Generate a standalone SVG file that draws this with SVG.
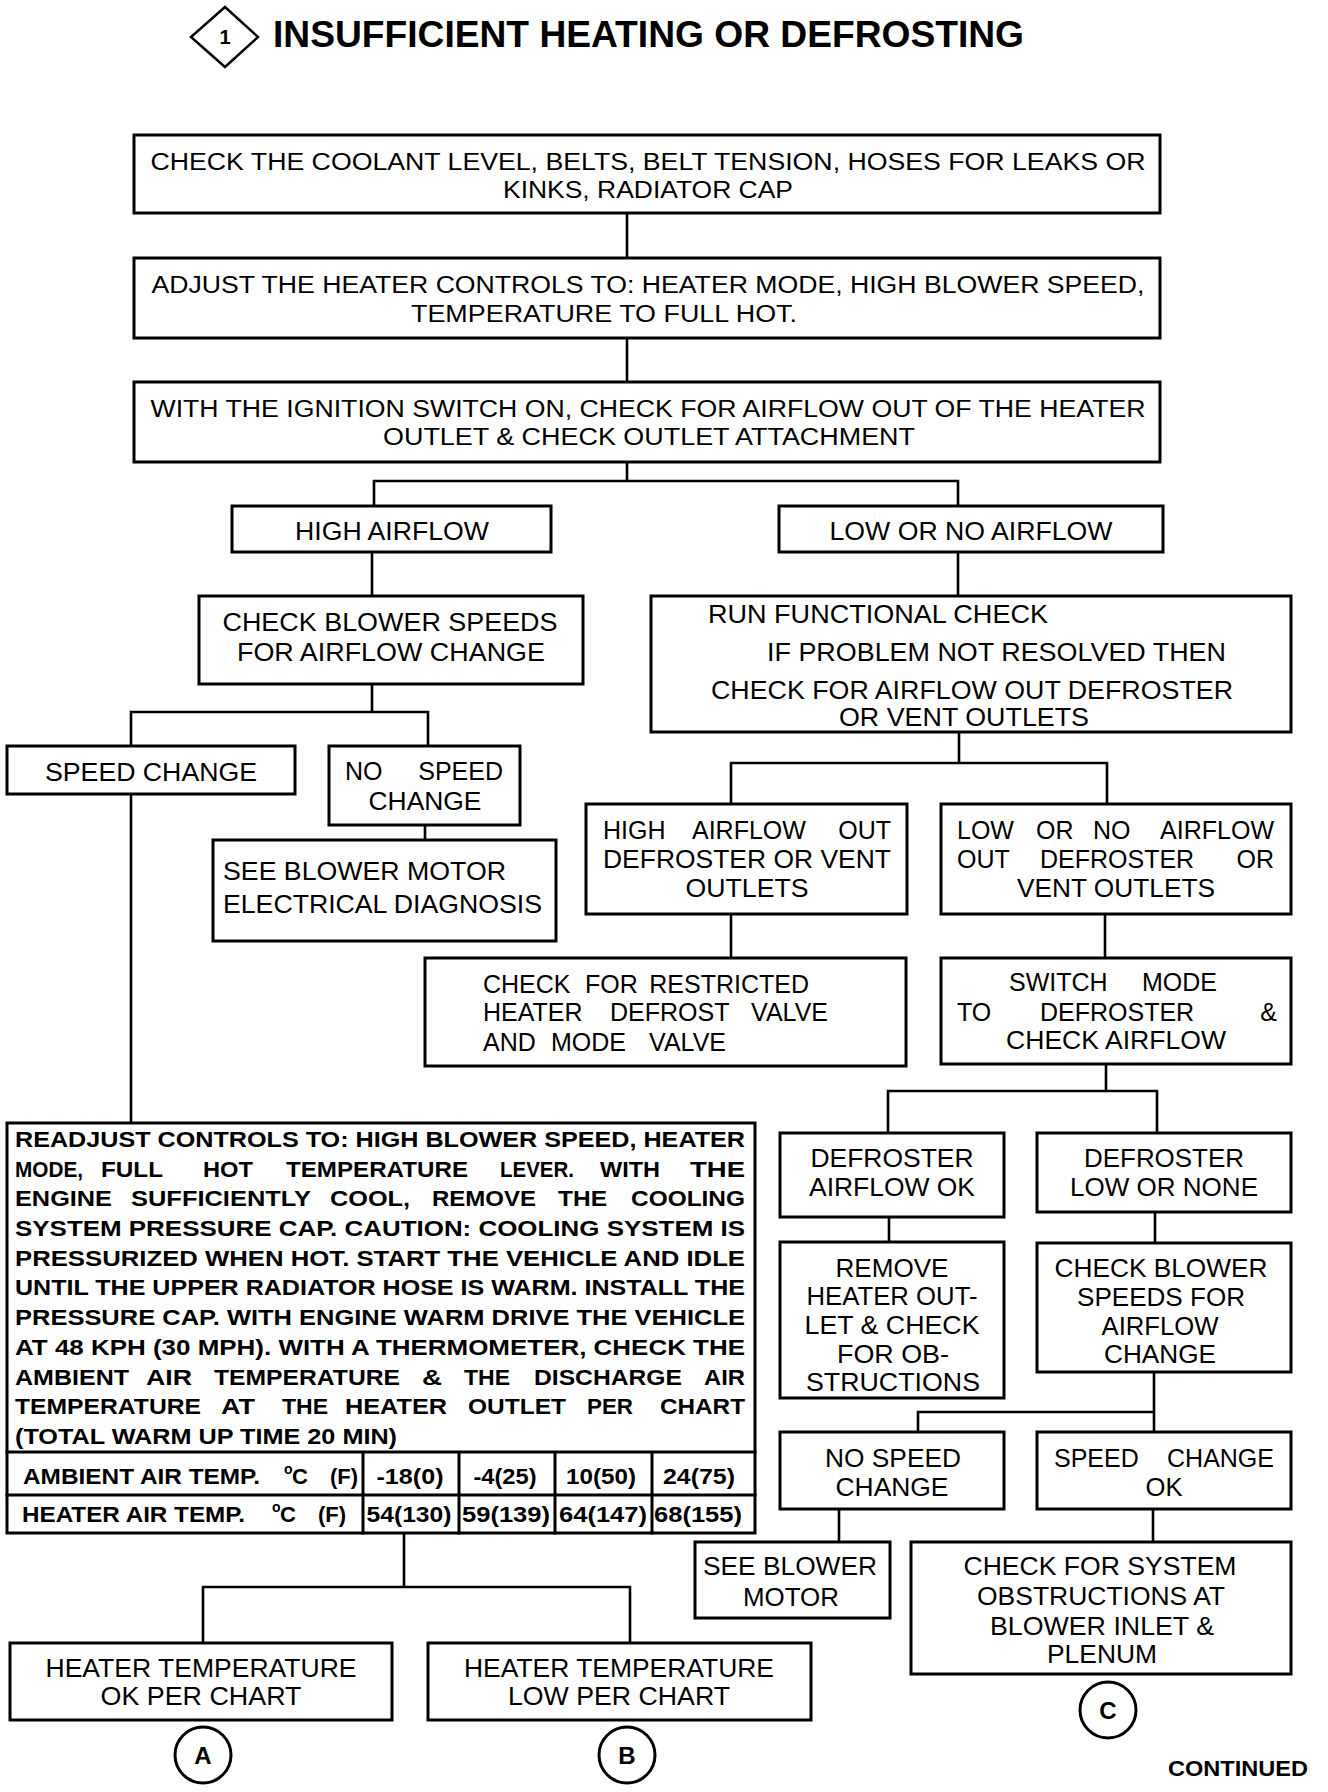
<svg xmlns="http://www.w3.org/2000/svg" width="1328" height="1792" viewBox="0 0 1328 1792">
<style>
.b{fill:#fff;stroke:#000;stroke-width:3}
.c{stroke:#000;stroke-width:2.6;fill:none;stroke-linecap:square}
.ci{fill:#fff;stroke:#000;stroke-width:3}
text{font-family:"Liberation Sans",Arial,Helvetica,sans-serif;font-size:25px;fill:#000}
.m{text-anchor:middle}
.e{text-anchor:end}
.t{font-size:23px}
.r{font-weight:bold;font-size:22px}
.bd{font-weight:bold}
</style>
<rect width="1328" height="1792" fill="#fff"/>

<g id="title">
<polygon points="225,7 258,37 225,67 191,37" fill="#fff" stroke="#000" stroke-width="2.5"/>
<text x="225" y="44" class="m bd" style="font-size:20px">1</text>
<text x="273" y="47" class="bd" style="font-size:37px" textLength="751" lengthAdjust="spacingAndGlyphs">INSUFFICIENT HEATING OR DEFROSTING</text>
</g>

<g id="connectors">
<path class="c" d="M627,213V258M627,338V382M627,462V481M374,481H958M374,481V506M958,481V506"/>
<path class="c" d="M372,552V596M958,552V596"/>
<path class="c" d="M372,684V712M131,712H428M131,712V746M428,712V746M425,825V840M131,794V1123"/>
<path class="c" d="M959,732V763M731,763H1107M731,763V804M1107,763V804M731,914V958M1105,914V958"/>
<path class="c" d="M1106,1064V1091M888,1091H1157M888,1091V1133M1157,1091V1133"/>
<path class="c" d="M889,1217V1242M1155,1212V1243M1154,1372V1432M918,1412H1154M918,1412V1432"/>
<path class="c" d="M839,1509V1542M1153,1509V1542"/>
<path class="c" d="M404,1533V1587M203,1587H630M203,1587V1643M630,1587V1643"/>
</g>

<g id="n1">
<rect class="b" x="134" y="135" width="1026" height="78"/>
<text x="648" y="170" class="m t" textLength="995" lengthAdjust="spacingAndGlyphs">CHECK THE COOLANT LEVEL, BELTS, BELT TENSION, HOSES FOR LEAKS OR</text>
<text x="648" y="198" class="m t" textLength="290" lengthAdjust="spacingAndGlyphs">KINKS, RADIATOR CAP</text>
</g>

<g id="n2">
<rect class="b" x="134" y="258" width="1026" height="80"/>
<text x="648" y="293" class="m t" textLength="993" lengthAdjust="spacingAndGlyphs">ADJUST THE HEATER CONTROLS TO: HEATER MODE, HIGH BLOWER SPEED,</text>
<text x="604" y="322" class="m t" textLength="386" lengthAdjust="spacingAndGlyphs">TEMPERATURE  TO FULL HOT.</text>
</g>

<g id="n3">
<rect class="b" x="134" y="382" width="1026" height="80"/>
<text x="648" y="417" class="m t" textLength="995" lengthAdjust="spacingAndGlyphs">WITH THE IGNITION SWITCH ON, CHECK FOR AIRFLOW OUT OF THE HEATER</text>
<text x="649" y="445" class="m t" textLength="532" lengthAdjust="spacingAndGlyphs">OUTLET &amp; CHECK OUTLET ATTACHMENT</text>
</g>

<g id="n4">
<rect class="b" x="232" y="506" width="319" height="46"/>
<text x="392" y="540" class="m" textLength="194" lengthAdjust="spacingAndGlyphs">HIGH AIRFLOW</text>
</g>

<g id="n5">
<rect class="b" x="779" y="506" width="384" height="46"/>
<text x="971" y="540" class="m" textLength="283" lengthAdjust="spacingAndGlyphs">LOW OR NO AIRFLOW</text>
</g>

<g id="n6">
<rect class="b" x="199" y="596" width="384" height="88"/>
<text x="390" y="631" class="m" textLength="335" lengthAdjust="spacingAndGlyphs">CHECK BLOWER SPEEDS</text>
<text x="391" y="661" class="m" textLength="308" lengthAdjust="spacingAndGlyphs">FOR AIRFLOW CHANGE</text>
</g>

<g id="n7">
<rect class="b" x="651" y="596" width="640" height="136"/>
<text x="708" y="623" textLength="340" lengthAdjust="spacingAndGlyphs">RUN FUNCTIONAL CHECK</text>
<text x="767" y="661" textLength="459" lengthAdjust="spacingAndGlyphs">IF PROBLEM NOT RESOLVED THEN</text>
<text x="711" y="699" textLength="522" lengthAdjust="spacingAndGlyphs">CHECK FOR AIRFLOW OUT DEFROSTER</text>
<text x="964" y="726" class="m" textLength="250" lengthAdjust="spacingAndGlyphs">OR VENT OUTLETS</text>
</g>

<g id="n8">
<rect class="b" x="7" y="746" width="288" height="48"/>
<text x="151" y="781" class="m" textLength="212" lengthAdjust="spacingAndGlyphs">SPEED CHANGE</text>
</g>

<g id="n9">
<rect class="b" x="329" y="746" width="191" height="79"/>
<text x="345" y="780">NO</text>
<text x="503" y="780" class="e">SPEED</text>
<text x="425" y="810" class="m" textLength="113" lengthAdjust="spacingAndGlyphs">CHANGE</text>
</g>

<g id="n10">
<rect class="b" x="213" y="840" width="343" height="101"/>
<text x="223" y="880" textLength="283" lengthAdjust="spacingAndGlyphs">SEE BLOWER MOTOR</text>
<text x="223" y="913" textLength="319" lengthAdjust="spacingAndGlyphs">ELECTRICAL DIAGNOSIS</text>
</g>

<g id="n11">
<rect class="b" x="586" y="804" width="321" height="110"/>
<text x="603" y="839">HIGH</text>
<text x="692" y="839">AIRFLOW</text>
<text x="891" y="839" class="e">OUT</text>
<text x="747" y="868" class="m" textLength="288" lengthAdjust="spacingAndGlyphs">DEFROSTER OR VENT</text>
<text x="747" y="897" class="m" textLength="123" lengthAdjust="spacingAndGlyphs">OUTLETS</text>
</g>

<g id="n12">
<rect class="b" x="941" y="804" width="350" height="110"/>
<text x="957" y="839">LOW</text>
<text x="1036" y="839">OR</text>
<text x="1093" y="839">NO</text>
<text x="1274" y="839" class="e">AIRFLOW</text>
<text x="957" y="868">OUT</text>
<text x="1040" y="868">DEFROSTER</text>
<text x="1274" y="868" class="e">OR</text>
<text x="1116" y="897" class="m" textLength="198" lengthAdjust="spacingAndGlyphs">VENT OUTLETS</text>
</g>

<g id="n13">
<rect class="b" x="425" y="958" width="481" height="108"/>
<text x="483" y="993">CHECK</text>
<text x="585" y="993">FOR</text>
<text x="809" y="993" class="e">RESTRICTED</text>
<text x="483" y="1021">HEATER</text>
<text x="610" y="1021">DEFROST</text>
<text x="828" y="1021" class="e">VALVE</text>
<text x="483" y="1051">AND</text>
<text x="551" y="1051">MODE</text>
<text x="726" y="1051" class="e">VALVE</text>
</g>

<g id="n14">
<rect class="b" x="941" y="958" width="350" height="106"/>
<text x="1009" y="991">SWITCH</text>
<text x="1217" y="991" class="e">MODE</text>
<text x="957" y="1021">TO</text>
<text x="1040" y="1021">DEFROSTER</text>
<text x="1277" y="1021" class="e">&amp;</text>
<text x="1116" y="1049" class="m" textLength="220" lengthAdjust="spacingAndGlyphs">CHECK AIRFLOW</text>
</g>

<g id="n15">
<rect class="b" x="780" y="1133" width="224" height="84"/>
<text x="892" y="1167" class="m" textLength="163" lengthAdjust="spacingAndGlyphs">DEFROSTER</text>
<text x="892" y="1196" class="m" textLength="166" lengthAdjust="spacingAndGlyphs">AIRFLOW OK</text>
</g>

<g id="n16">
<rect class="b" x="1037" y="1133" width="254" height="79"/>
<text x="1164" y="1167" class="m" textLength="160" lengthAdjust="spacingAndGlyphs">DEFROSTER</text>
<text x="1164" y="1196" class="m" textLength="188" lengthAdjust="spacingAndGlyphs">LOW OR NONE</text>
</g>

<g id="n17">
<rect class="b" x="780" y="1242" width="224" height="156"/>
<text x="892" y="1277" class="m" textLength="113" lengthAdjust="spacingAndGlyphs">REMOVE</text>
<text x="892" y="1305" class="m" textLength="171" lengthAdjust="spacingAndGlyphs">HEATER OUT-</text>
<text x="892" y="1334" class="m" textLength="175" lengthAdjust="spacingAndGlyphs">LET &amp; CHECK</text>
<text x="893" y="1363" class="m" textLength="112" lengthAdjust="spacingAndGlyphs">FOR OB-</text>
<text x="893" y="1391" class="m" textLength="174" lengthAdjust="spacingAndGlyphs">STRUCTIONS</text>
</g>

<g id="n18">
<rect class="b" x="1037" y="1243" width="254" height="129"/>
<text x="1161" y="1277" class="m" textLength="213" lengthAdjust="spacingAndGlyphs">CHECK BLOWER</text>
<text x="1161" y="1306" class="m" textLength="168" lengthAdjust="spacingAndGlyphs">SPEEDS FOR</text>
<text x="1160" y="1335" class="m" textLength="117" lengthAdjust="spacingAndGlyphs">AIRFLOW</text>
<text x="1160" y="1363" class="m" textLength="112" lengthAdjust="spacingAndGlyphs">CHANGE</text>
</g>

<g id="n19">
<rect class="b" x="780" y="1432" width="224" height="77"/>
<text x="893" y="1467" class="m" textLength="136" lengthAdjust="spacingAndGlyphs">NO SPEED</text>
<text x="892" y="1496" class="m" textLength="113" lengthAdjust="spacingAndGlyphs">CHANGE</text>
</g>

<g id="n20">
<rect class="b" x="1037" y="1432" width="254" height="77"/>
<text x="1054" y="1467">SPEED</text>
<text x="1274" y="1467" class="e">CHANGE</text>
<text x="1164" y="1496" class="m" textLength="37" lengthAdjust="spacingAndGlyphs">OK</text>
</g>

<g id="n21">
<rect class="b" x="695" y="1542" width="195" height="76"/>
<text x="790" y="1575" class="m" textLength="174" lengthAdjust="spacingAndGlyphs">SEE BLOWER</text>
<text x="791" y="1606" class="m" textLength="96" lengthAdjust="spacingAndGlyphs">MOTOR</text>
</g>

<g id="n22">
<rect class="b" x="911" y="1542" width="380" height="132"/>
<text x="1100" y="1575" class="m" textLength="273" lengthAdjust="spacingAndGlyphs">CHECK FOR SYSTEM</text>
<text x="1101" y="1605" class="m" textLength="248" lengthAdjust="spacingAndGlyphs">OBSTRUCTIONS AT</text>
<text x="1102" y="1635" class="m" textLength="224" lengthAdjust="spacingAndGlyphs">BLOWER INLET &amp;</text>
<text x="1102" y="1663" class="m" textLength="110" lengthAdjust="spacingAndGlyphs">PLENUM</text>
</g>

<g id="n23">
<rect class="b" x="7" y="1123" width="748" height="410"/>
<path class="c" d="M7,1452H755M7,1495H755M363,1452V1533M459,1452V1533M555,1452V1533M652,1452V1533" style="stroke-width:3"/>
<text x="15" y="1147" class="r" textLength="730" lengthAdjust="spacingAndGlyphs">READJUST CONTROLS TO: HIGH BLOWER SPEED, HEATER</text>
<text x="15" y="1177" class="r" textLength="68" lengthAdjust="spacingAndGlyphs">MODE,</text>
<text x="101" y="1177" class="r" textLength="62" lengthAdjust="spacingAndGlyphs">FULL</text>
<text x="203" y="1177" class="r" textLength="50" lengthAdjust="spacingAndGlyphs">HOT</text>
<text x="286" y="1177" class="r" textLength="182" lengthAdjust="spacingAndGlyphs">TEMPERATURE</text>
<text x="500" y="1177" class="r" textLength="74" lengthAdjust="spacingAndGlyphs">LEVER.</text>
<text x="600" y="1177" class="r" textLength="60" lengthAdjust="spacingAndGlyphs">WITH</text>
<text x="690" y="1177" class="r" textLength="55" lengthAdjust="spacingAndGlyphs">THE</text>
<text x="15" y="1206" class="r" textLength="97" lengthAdjust="spacingAndGlyphs">ENGINE</text>
<text x="131" y="1206" class="r" textLength="180" lengthAdjust="spacingAndGlyphs">SUFFICIENTLY</text>
<text x="330" y="1206" class="r" textLength="80" lengthAdjust="spacingAndGlyphs">COOL,</text>
<text x="432" y="1206" class="r" textLength="104" lengthAdjust="spacingAndGlyphs">REMOVE</text>
<text x="558" y="1206" class="r" textLength="49" lengthAdjust="spacingAndGlyphs">THE</text>
<text x="631" y="1206" class="r" textLength="114" lengthAdjust="spacingAndGlyphs">COOLING</text>
<text x="15" y="1236" class="r" textLength="730" lengthAdjust="spacingAndGlyphs">SYSTEM PRESSURE CAP. CAUTION: COOLING SYSTEM IS</text>
<text x="15" y="1266" class="r" textLength="730" lengthAdjust="spacingAndGlyphs">PRESSURIZED WHEN HOT. START THE VEHICLE AND IDLE</text>
<text x="15" y="1295" class="r" textLength="730" lengthAdjust="spacingAndGlyphs">UNTIL THE UPPER RADIATOR HOSE IS WARM. INSTALL THE</text>
<text x="15" y="1325" class="r" textLength="730" lengthAdjust="spacingAndGlyphs">PRESSURE CAP. WITH ENGINE WARM DRIVE THE VEHICLE</text>
<text x="15" y="1355" class="r" textLength="730" lengthAdjust="spacingAndGlyphs">AT 48 KPH (30 MPH). WITH A THERMOMETER, CHECK THE</text>
<text x="15" y="1385" class="r" textLength="114" lengthAdjust="spacingAndGlyphs">AMBIENT</text>
<text x="146" y="1385" class="r" textLength="46" lengthAdjust="spacingAndGlyphs">AIR</text>
<text x="214" y="1385" class="r" textLength="186" lengthAdjust="spacingAndGlyphs">TEMPERATURE</text>
<text x="422" y="1385" class="r" textLength="20" lengthAdjust="spacingAndGlyphs">&amp;</text>
<text x="464" y="1385" class="r" textLength="46" lengthAdjust="spacingAndGlyphs">THE</text>
<text x="534" y="1385" class="r" textLength="148" lengthAdjust="spacingAndGlyphs">DISCHARGE</text>
<text x="704" y="1385" class="r" textLength="41" lengthAdjust="spacingAndGlyphs">AIR</text>
<text x="15" y="1414" class="r" textLength="186" lengthAdjust="spacingAndGlyphs">TEMPERATURE</text>
<text x="221" y="1414" class="r" textLength="34" lengthAdjust="spacingAndGlyphs">AT</text>
<text x="282" y="1414" class="r" textLength="46" lengthAdjust="spacingAndGlyphs">THE</text>
<text x="345" y="1414" class="r" textLength="102" lengthAdjust="spacingAndGlyphs">HEATER</text>
<text x="468" y="1414" class="r" textLength="98" lengthAdjust="spacingAndGlyphs">OUTLET</text>
<text x="587" y="1414" class="r" textLength="46" lengthAdjust="spacingAndGlyphs">PER</text>
<text x="660" y="1414" class="r" textLength="85" lengthAdjust="spacingAndGlyphs">CHART</text>
<text x="15" y="1444" class="r" textLength="382" lengthAdjust="spacingAndGlyphs">(TOTAL WARM UP TIME 20 MIN)</text>
<text x="23" y="1484" class="r" textLength="237" lengthAdjust="spacingAndGlyphs">AMBIENT AIR TEMP.</text>
<text x="284" y="1474" class="r" style="font-size:14px">o</text>
<text x="292" y="1484" class="r">C</text>
<text x="330" y="1484" class="r">(F)</text>
<text x="410" y="1484" class="r m" textLength="67" lengthAdjust="spacingAndGlyphs">-18(0)</text>
<text x="505" y="1484" class="r m" textLength="63" lengthAdjust="spacingAndGlyphs">-4(25)</text>
<text x="601" y="1484" class="r m" textLength="70" lengthAdjust="spacingAndGlyphs">10(50)</text>
<text x="699" y="1484" class="r m" textLength="72" lengthAdjust="spacingAndGlyphs">24(75)</text>
<text x="22" y="1522" class="r" textLength="223" lengthAdjust="spacingAndGlyphs">HEATER AIR TEMP.</text>
<text x="272" y="1512" class="r" style="font-size:14px">o</text>
<text x="280" y="1522" class="r">C</text>
<text x="318" y="1522" class="r">(F)</text>
<text x="409" y="1522" class="r m" textLength="85" lengthAdjust="spacingAndGlyphs">54(130)</text>
<text x="506" y="1522" class="r m" textLength="88" lengthAdjust="spacingAndGlyphs">59(139)</text>
<text x="603" y="1522" class="r m" textLength="88" lengthAdjust="spacingAndGlyphs">64(147)</text>
<text x="698" y="1522" class="r m" textLength="88" lengthAdjust="spacingAndGlyphs">68(155)</text>
</g>

<g id="n24">
<rect class="b" x="10" y="1643" width="382" height="77"/>
<text x="201" y="1677" class="m" textLength="311" lengthAdjust="spacingAndGlyphs">HEATER TEMPERATURE</text>
<text x="201" y="1705" class="m" textLength="201" lengthAdjust="spacingAndGlyphs">OK PER CHART</text>
</g>

<g id="n25">
<rect class="b" x="428" y="1643" width="383" height="77"/>
<text x="619" y="1677" class="m" textLength="310" lengthAdjust="spacingAndGlyphs">HEATER TEMPERATURE</text>
<text x="619" y="1705" class="m" textLength="222" lengthAdjust="spacingAndGlyphs">LOW PER CHART</text>
</g>

<g id="cA">
<circle class="ci" cx="203" cy="1755" r="28"/>
<text x="203" y="1764" class="m bd" style="font-size:24px">A</text>
</g>
<g id="cB">
<circle class="ci" cx="627" cy="1755" r="28"/>
<text x="627" y="1764" class="m bd" style="font-size:24px">B</text>
</g>
<g id="cC">
<circle class="ci" cx="1108" cy="1710" r="28"/>
<text x="1108" y="1719" class="m bd" style="font-size:24px">C</text>
</g>

<text x="1308" y="1776" class="e bd" style="font-size:22px" textLength="140" lengthAdjust="spacingAndGlyphs">CONTINUED</text>
</svg>
